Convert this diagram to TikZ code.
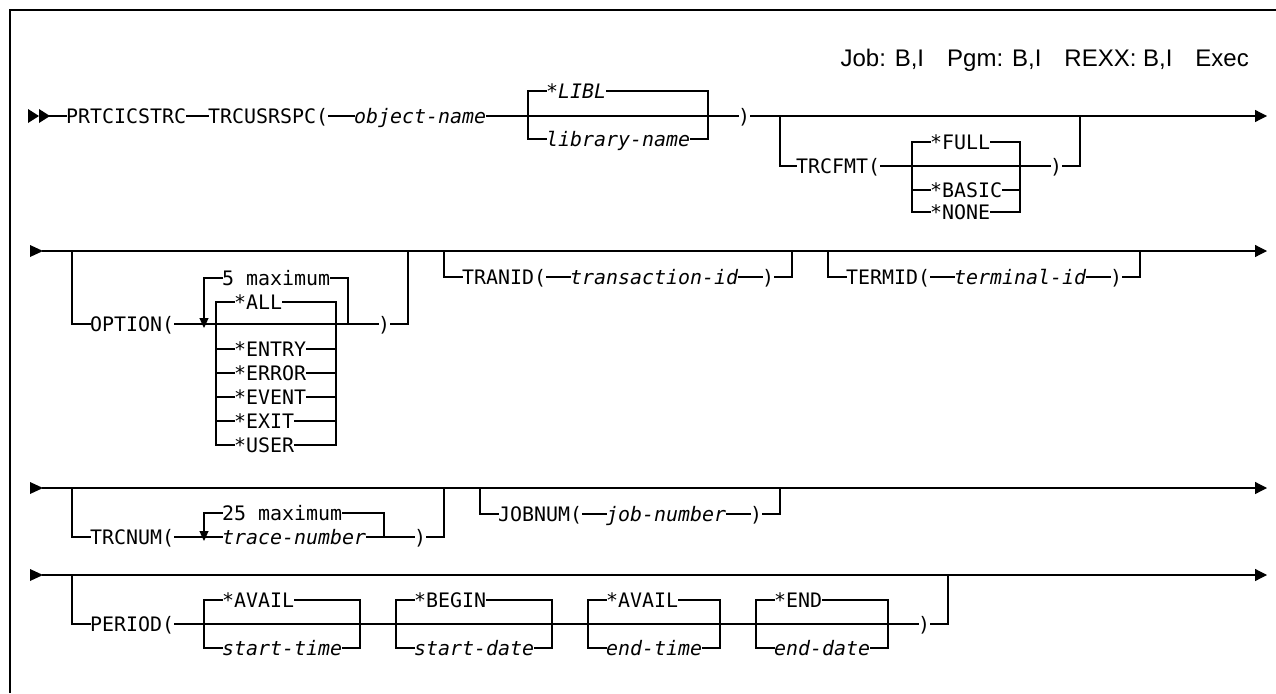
\documentclass[tikz,border=0pt]{standalone}
\usepackage{fontspec}
\usetikzlibrary{arrows.meta}
\newfontfamily\dmonofam{DejaVu Sans Mono}
\newfontfamily\hdrfam{Liberation Sans}
\newcommand\dmono{\dmonofam\fontsize{19.93}{24}\selectfont}
\tikzset{
  rail/.style={line width=1.2pt, line cap=rect},
  t/.style={font=\dmono, inner sep=0pt, text height=14.6pt, text depth=0pt, anchor=west},
  it/.style={t, font=\dmono\itshape},
  endarr/.style={rail, -{Triangle[length=12pt,width=12pt]}},
  looparr/.style={rail, -{Triangle[length=10pt,width=9pt]}},
  startmark/.style={fill=black}
}
\begin{document}
\begin{tikzpicture}[x=1pt,y=-1pt]
\useasboundingbox (0,0) rectangle (1276,693);
\draw[line width=1.2pt] (10,693) -- (10,10) -- (1276,10);
\node[anchor=east, font=\hdrfam\fontsize{24}{28}\selectfont, inner sep=0pt] (hdr) at (1249,60) {Job: B,I\hspace{23pt}Pgm: B,I\hspace{23pt}REXX: B,I\hspace{23pt}Exec};

% ---------------- Row 1 ----------------
\fill[startmark] (28,109) -- (39,116) -- (28,123) -- cycle;
\fill[startmark] (39,109) -- (50,116) -- (39,123) -- cycle;
\coordinate (s1) at (50,116);
\coordinate (e1) at (1267,116);
\node[t] (prt) at (66,116) {PRTCICSTRC};
\node[t] (trc) at (208,116) {TRCUSRSPC(};
\node[it] (obj) at (354,116) {object-name};
\node[it] (libl) at (546,91) {*LIBL};
\node[it] (lib) at (546,139) {library-name};
\node[t] (rp1) at (738,116) {)};
\coordinate (b1l) at (528,116);
\coordinate (b1r) at (708,116);
\draw[rail] (s1) -- (prt.west);
\draw[rail] (prt.east) -- (trc.west);
\draw[rail] (trc.east) -- (obj.west);
\draw[rail] (obj.east) -- (rp1.west);
\draw[rail] (b1l) |- (libl.west);
\draw[rail] (libl.east) -| (b1r);
\draw[rail] (b1l) |- (lib.west);
\draw[rail] (lib.east) -| (b1r);
\draw[endarr] (rp1.east) -- (e1);
% TRCFMT
\coordinate (f1l) at (780,116);
\coordinate (f1r) at (1080,116);
\node[t] (fmt) at (796,166) {TRCFMT(};
\node[t] (full) at (930,142) {*FULL};
\node[t] (basic) at (930,190) {*BASIC};
\node[t] (none) at (930,212) {*NONE};
\node[t] (rp2) at (1050,166) {)};
\coordinate (c1l) at (912,166);
\coordinate (c1r) at (1020,166);
\draw[rail] (f1l) |- (fmt.west);
\draw[rail] (fmt.east) -- (rp2.west);
\draw[rail] (rp2.east) -| (f1r);
\draw[rail] (c1l) |- (full.west);
\draw[rail] (full.east) -| (c1r);
\draw[rail] (c1l) |- (none.west);
\draw[rail] (none.east) -| (c1r);
\draw[rail] (basic.west -| c1l) -- (basic.west);
\draw[rail] (basic.east) -- (basic.east -| c1r);

% ---------------- Row 2 ----------------
\fill[startmark] (30,245) -- (43,251) -- (30,257) -- cycle;
\coordinate (s2) at (43,251);
\coordinate (e2) at (1267,251);
\draw[endarr] (s2) -- (e2);
% OPTION
\coordinate (o1l) at (72,251);
\coordinate (o1r) at (408,251);
\node[t] (opt) at (90,324) {OPTION(};
\node[t] (max5) at (222,278) {5 maximum};
\node[t] (all) at (234,302) {*ALL};
\node[t] (entry) at (234,349) {*ENTRY};
\node[t] (error) at (234,373) {*ERROR};
\node[t] (event) at (234,397) {*EVENT};
\node[t] (exit) at (234,421) {*EXIT};
\node[t] (user) at (234,445) {*USER};
\node[t] (rp3) at (378,324) {)};
\coordinate (lp1l) at (204,328);
\coordinate (lp1r) at (348,324);
\coordinate (c2l) at (216,324);
\coordinate (c2r) at (336,324);
\draw[rail] (o1l) |- (opt.west);
\draw[rail] (opt.east) -- (rp3.west);
\draw[rail] (rp3.east) -| (o1r);
\draw[looparr] (max5.west) -| (lp1l);
\draw[rail] (max5.east) -| (lp1r);
\draw[rail] (c2l) |- (all.west);
\draw[rail] (all.east) -| (c2r);
\draw[rail] (c2l) |- (user.west);
\draw[rail] (user.east) -| (c2r);
\foreach \n in {entry,error,event,exit}{
  \draw[rail] (\n.west -| c2l) -- (\n.west);
  \draw[rail] (\n.east) -- (\n.east -| c2r);
}
% TRANID
\coordinate (t1l) at (444,251);
\coordinate (t1r) at (792,251);
\node[t] (tran) at (462,277) {TRANID(};
\node[it] (tid) at (570,277) {transaction-id};
\node[t] (rp4) at (762,277) {)};
\draw[rail] (t1l) |- (tran.west);
\draw[rail] (tran.east) -- (tid.west);
\draw[rail] (tid.east) -- (rp4.west);
\draw[rail] (rp4.east) -| (t1r);
% TERMID
\coordinate (m1l) at (828,251);
\coordinate (m1r) at (1140,251);
\node[t] (term) at (846,277) {TERMID(};
\node[it] (tmid) at (954,277) {terminal-id};
\node[t] (rp5) at (1110,277) {)};
\draw[rail] (m1l) |- (term.west);
\draw[rail] (term.east) -- (tmid.west);
\draw[rail] (tmid.east) -- (rp5.west);
\draw[rail] (rp5.east) -| (m1r);

% ---------------- Row 3 ----------------
\fill[startmark] (30,482) -- (43,488) -- (30,494) -- cycle;
\coordinate (s3) at (43,488);
\coordinate (e3) at (1267,488);
\draw[endarr] (s3) -- (e3);
\coordinate (n1l) at (72,488);
\coordinate (n1r) at (444,488);
\node[t] (num) at (90,537) {TRCNUM(};
\node[t] (max25) at (222,513) {25 maximum};
\node[it] (tn) at (222,537) {trace-number};
\node[t] (rp6) at (414,537) {)};
\coordinate (lp2l) at (204,541);
\coordinate (lp2r) at (384,537);
\draw[rail] (n1l) |- (num.west);
\draw[rail] (num.east) -- (tn.west);
\draw[rail] (tn.east) -- (rp6.west);
\draw[rail] (rp6.east) -| (n1r);
\draw[looparr] (max25.west) -| (lp2l);
\draw[rail] (max25.east) -| (lp2r);
% JOBNUM
\coordinate (j1l) at (480,488);
\coordinate (j1r) at (780,488);
\node[t] (job) at (498,514) {JOBNUM(};
\node[it] (jn) at (606,514) {job-number};
\node[t] (rp7) at (750,514) {)};
\draw[rail] (j1l) |- (job.west);
\draw[rail] (job.east) -- (jn.west);
\draw[rail] (jn.east) -- (rp7.west);
\draw[rail] (rp7.east) -| (j1r);

% ---------------- Row 4 ----------------
\fill[startmark] (30,569) -- (43,575) -- (30,581) -- cycle;
\coordinate (s4) at (43,575);
\coordinate (e4) at (1267,575);
\draw[endarr] (s4) -- (e4);
\coordinate (p1l) at (72,575);
\coordinate (p1r) at (948,575);
\node[t] (per) at (90,624) {PERIOD(};
\node[t] (rp8) at (918,624) {)};
\draw[rail] (p1l) |- (per.west);
\draw[rail] (per.east) -- (rp8.west);
\draw[rail] (rp8.east) -| (p1r);
% groups
\node[t] (av1) at (222,600) {*AVAIL};
\node[it] (st) at (222,648) {start-time};
\node[t] (beg) at (414,600) {*BEGIN};
\node[it] (sd) at (414,648) {start-date};
\node[t] (av2) at (606,600) {*AVAIL};
\node[it] (et) at (606,648) {end-time};
\node[t] (endk) at (774,600) {*END};
\node[it] (ed) at (774,648) {end-date};
\coordinate (g1l) at (204,624); \coordinate (g1r) at (360,624);
\coordinate (g2l) at (396,624); \coordinate (g2r) at (552,624);
\coordinate (g3l) at (588,624); \coordinate (g3r) at (720,624);
\coordinate (g4l) at (756,624); \coordinate (g4r) at (888,624);
\draw[rail] (g1l) |- (av1.west); \draw[rail] (av1.east) -| (g1r);
\draw[rail] (g1l) |- (st.west);  \draw[rail] (st.east) -| (g1r);
\draw[rail] (g2l) |- (beg.west); \draw[rail] (beg.east) -| (g2r);
\draw[rail] (g2l) |- (sd.west);  \draw[rail] (sd.east) -| (g2r);
\draw[rail] (g3l) |- (av2.west); \draw[rail] (av2.east) -| (g3r);
\draw[rail] (g3l) |- (et.west);  \draw[rail] (et.east) -| (g3r);
\draw[rail] (g4l) |- (endk.west); \draw[rail] (endk.east) -| (g4r);
\draw[rail] (g4l) |- (ed.west);  \draw[rail] (ed.east) -| (g4r);
\end{tikzpicture}
\end{document}
